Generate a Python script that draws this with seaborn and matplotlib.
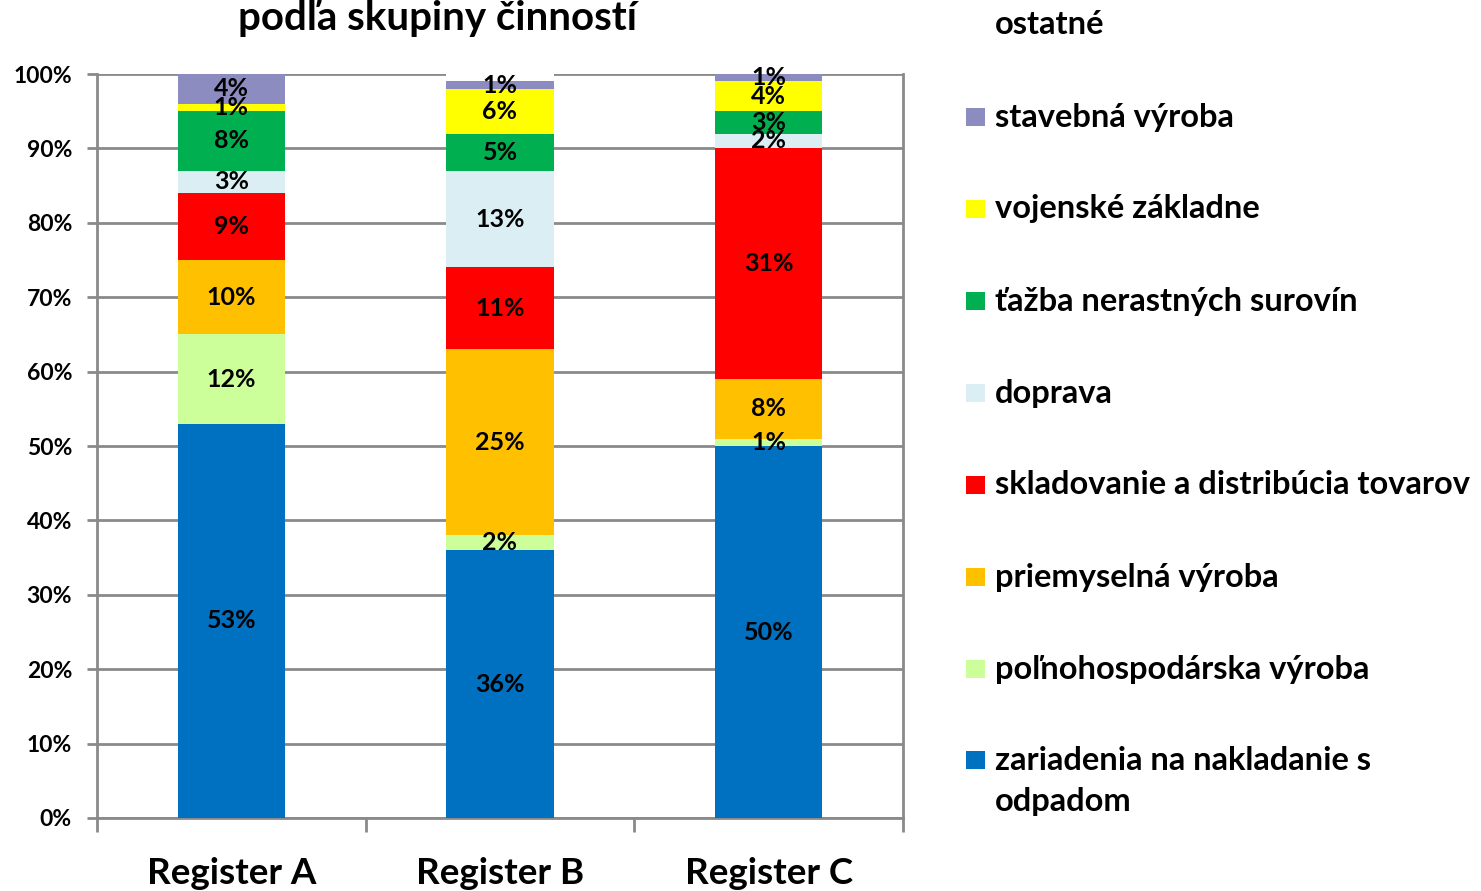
import numpy as np
import pandas as pd
import matplotlib
matplotlib.use("Agg")
import matplotlib.pyplot as plt
import seaborn as sns
from matplotlib.patches import Rectangle

# ---- data ----
categories = ["Register A", "Register B", "Register C"]
series_names = [
    "zariadenia na nakladanie s\nodpadom",
    "poľnohospodárska výroba",
    "priemyselná výroba",
    "skladovanie a distribúcia tovarov",
    "doprava",
    "ťažba nerastných surovín",
    "vojenské základne",
    "stavebná výroba",
    "ostatné",
]
zariadenia = [53, 36, 50]
polnohosp = [12, 2, 1]
priemysel = [10, 25, 8]
skladovanie = [9, 11, 31]
doprava = [3, 13, 2]
tazba = [8, 5, 3]
vojenske = [1, 6, 4]
stavebna = [4, 1, 1]
ostatne = [0, 1, 0]
series_values = [zariadenia, polnohosp, priemysel, skladovanie, doprava,
                 tazba, vojenske, stavebna, ostatne]
colors = ["#0070C0", "#CCFF99", "#FFC000", "#FF0000", "#DAEEF3",
          "#00B050", "#FFFF00", "#8C8CC0", "#FFFFFF"]
y_ticks = [0, 10, 20, 30, 40, 50, 60, 70, 80, 90, 100]
title = "podľa skupiny činností"

# ---- style ----
sns.set_theme(style="white")
FONT = ["Lato", "DejaVu Sans"]
plt.rcParams["font.family"] = FONT
plt.rcParams["font.weight"] = "bold"

W, H = 1481, 891
fig = plt.figure(figsize=(W / 100, H / 100), dpi=100)
ax = fig.add_axes([97 / W, 1 - 818 / H, (903 - 97) / W, (818 - 74) / H])

vals = np.array(series_values, dtype=float)
cum = np.cumsum(vals, axis=0)
bottoms = cum - vals

# draw stacked bars from top cumulative down (overdraw)
for i in range(len(series_names) - 1, -1, -1):
    df = pd.DataFrame({"cat": categories, "top": cum[i]})
    sns.barplot(data=df, x="cat", y="top", color=colors[i], saturation=1,
                width=0.4, ax=ax, linewidth=0, edgecolor="none", zorder=3)

# value labels
for i, name in enumerate(series_names):
    if colors[i] == "#FFFFFF":
        continue
    for j in range(len(categories)):
        v = vals[i, j]
        if v <= 0:
            continue
        ax.text(j, bottoms[i, j] + v / 2, f"{int(v)}%", ha="center",
                va="center", fontsize=18, fontweight="bold", color="black",
                zorder=5, family=FONT)

gray = "#8A8A8A"
ax.set_xlim(-0.5, 2.5)
ax.set_ylim(0, 100)
ax.set_yticks(y_ticks)
ax.set_yticklabels([f"{t}%" for t in y_ticks], fontsize=16.5, fontweight="bold")
ax.yaxis.grid(True, color=gray, linewidth=2.0, zorder=0)
ax.set_axisbelow(True)
ax.set_xlabel("")
ax.set_ylabel("")
ax.set_xticks([0, 1, 2])
ax.set_xticklabels(categories, fontsize=26.5, fontweight="bold")
ax.set_xticks([-0.5, 0.5, 1.5, 2.5], minor=True)
ax.tick_params(axis="x", which="major", length=0, pad=28)
ax.tick_params(axis="x", which="minor", length=10, width=2, color=gray,
               direction="out", bottom=True)
ax.tick_params(axis="y", which="major", length=7, width=2, color=gray,
               direction="out", left=True, pad=11)
for s in ["left", "bottom", "right"]:
    ax.spines[s].set_visible(True)
    ax.spines[s].set_color(gray)
    ax.spines[s].set_linewidth(2.0)
ax.spines["top"].set_visible(False)
for lab in ax.get_xticklabels() + ax.get_yticklabels():
    lab.set_fontweight("bold")
    lab.set_color("black")

# title
fig.text(437 / W, 1 - 30 / H, title, ha="center", va="baseline",
         fontsize=29, fontweight="bold", color="black")

# legend (reversed order)
centers = [25, 117, 209, 301, 393, 485, 577, 669, 781.5]
for k, i in enumerate(range(len(series_names) - 1, -1, -1)):
    yc = centers[k]
    sw_y = 760 if i == 0 else yc
    if colors[i] != "#FFFFFF":
        fig.patches.append(Rectangle((966 / W, 1 - (sw_y + 9) / H), 19 / W,
                                     18 / H, transform=fig.transFigure,
                                     facecolor=colors[i], edgecolor="none"))
    fig.text(995 / W, 1 - yc / H, series_names[i], ha="left", va="center",
             fontsize=23.5, fontweight="bold", color="black", linespacing=1.5)

fig.savefig("out.png", dpi=100, facecolor="white")
